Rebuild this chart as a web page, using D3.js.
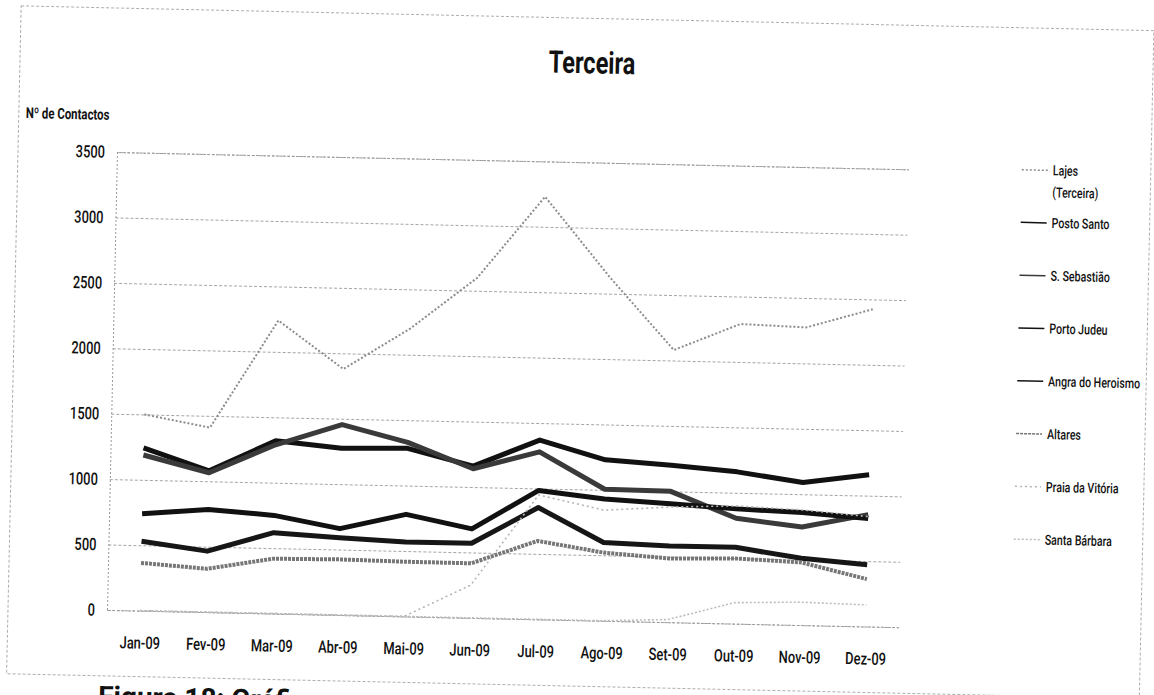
<!DOCTYPE html>
<html lang="pt">
<head>
  <meta charset="UTF-8">
  <title>Terceira</title>
  <style>
    body { margin: 0; background: #fff; }
    svg { display: block; }
    text { font-family: Roboto, "Liberation Sans", sans-serif; fill: #111; }
  </style>
</head>
<body>
  <svg id="chart" width="1154" height="695"></svg>

  <script src="https://cdn.jsdelivr.net/npm/d3@7"></script>
  <script>

    // values (Nº de Contactos, 2009)
    var months = ["Jan-09", "Fev-09", "Mar-09", "Abr-09", "Mai-09", "Jun-09",
                  "Jul-09", "Ago-09", "Set-09", "Out-09", "Nov-09", "Dez-09"];
    var yTicks = [0, 500, 1000, 1500, 2000, 2500, 3000, 3500];

    var lajes        = [1500, 1410, 2240, 1880, 2200, 2600, 3230, 2630, 2080, 2290, 2275, 2425];
    var postoSanto   = [1245, 1080, 1320, 1275, 1285, 1160, 1370, 1230, 1200, 1160, 1090, 1160];
    var sSebastiao   = [1190, 1065, 1290, 1455, 1330, 1140, 1280, 1005, 1000, 805, 750, 855];
    var portoJudeu   = [740, 785, 750, 660, 780, 680, 985, 930, 905, 877, 860, 825];
    var angra        = [530, 466, 618, 591, 568, 570, 854, 598, 583, 583, 510, 472];
    var altares      = [365, 331, 419, 425, 418, 417, 599, 521, 487, 498, 479, 362];
    var praiaVitoria = [0, 0, 0, 0, 0, 250, 950, 845, 880, 900, 880, 840];
    var santaBarbara = [0, 0, 0, 0, 0, 0, 0, 0, 20, 160, 175, 165];

    var series = [
      {name: "Lajes (Terceira)", values: lajes,        color: "#8c8c8c", width: 2,   dash: "2,2"},
      {name: "Posto Santo",      values: postoSanto,   color: "#111",    width: 5,   dash: null},
      {name: "S. Sebastião",     values: sSebastiao,   color: "#3a3a3a", width: 5,   dash: null},
      {name: "Porto Judeu",      values: portoJudeu,   color: "#111",    width: 5,   dash: null},
      {name: "Angra do Heroismo",values: angra,        color: "#161616", width: 5,   dash: null},
      {name: "Altares",          values: altares,      color: "#777",    width: 4,   dash: "3,1"},
      {name: "Praia da Vitória", values: praiaVitoria, color: "#b5b5b5", width: 1.6, dash: "2,3"},
      {name: "Santa Bárbara",    values: santaBarbara, color: "#bdbdbd", width: 1.6, dash: "2,2"}
    ];

    // the scanned chart uses a narrow font, squeeze Roboto to match
    var SX = 0.76;

    var svg = d3.select("#chart");
    svg.append("rect").attr("width", 1154).attr("height", 695).attr("fill", "#fff");

    // the scan is tilted a little clockwise
    var g = svg.append("g").attr("transform", "rotate(1.25,110,610)");

    var x0 = 107, x1 = 899, yTop = 152, yBot = 610;

    var x = d3.scalePoint().domain(months).range([x0, x1]).padding(0.5);
    var y = d3.scaleLinear().domain([0, 3500]).range([yBot, yTop]);

    function narrowText(sel, px, py, size, weight) {
      return sel.append("text")
        .attr("transform", "translate(" + px + "," + py + ") scale(" + SX + ",1)")
        .attr("font-size", size)
        .attr("font-weight", weight || 500);
    }

    // chart frame
    g.append("rect")
      .attr("x", 8).attr("y", 8).attr("width", 1133).attr("height", 668)
      .attr("fill", "none").attr("stroke", "#999").attr("stroke-width", 0.8)
      .attr("stroke-dasharray", "3,2");

    // gridlines + y labels
    var yAxis = g.append("g")
      .attr("transform", "translate(" + x0 + ",0)")
      .call(d3.axisLeft(y).tickValues(yTicks).tickFormat(d3.format("d")).tickSize(-(x1 - x0)));
    yAxis.select(".domain").attr("stroke", "#999").attr("stroke-dasharray", "2,2");
    yAxis.selectAll(".tick line")
      .attr("stroke", "#9a9a9a").attr("stroke-width", 0.9).attr("stroke-dasharray", "3,2");
    yAxis.selectAll(".tick text")
      .attr("font-size", 17).attr("font-weight", 500).attr("fill", "#111")
      .attr("x", -12 / SX)
      .attr("transform", "scale(" + SX + ",1)");

    // x labels
    var xAxis = g.append("g")
      .attr("transform", "translate(0," + yBot + ")")
      .call(d3.axisBottom(x).tickSize(0).tickPadding(26));
    xAxis.select(".domain").remove();
    xAxis.selectAll(".tick text")
      .attr("font-size", 17).attr("font-weight", 500).attr("fill", "#111")
      .attr("transform", "scale(" + SX + ",1)");

    // lines
    var line = d3.line()
      .x(function (d, i) { return x(months[i]); })
      .y(function (d) { return y(d); });

    series.forEach(function (s) {
      g.append("path")
        .datum(s.values)
        .attr("d", line)
        .attr("fill", "none")
        .attr("stroke", s.color)
        .attr("stroke-width", s.width)
        .attr("stroke-linejoin", "round")
        .attr("stroke-dasharray", s.dash);
    });

    // titles
    narrowText(g, 580, 63, 31, "bold")
      .attr("text-anchor", "middle")
      .text("Terceira");

    narrowText(g, 15, 120, 15, "bold")
      .text("Nº de Contactos");

    // legend
    var legend = g.append("g").attr("transform", "translate(1012,0)");
    series.forEach(function (s, i) {
      var cy = i === 0 ? 150 : 202.6 + (i - 1) * 52.8;
      legend.append("line")
        .attr("x1", 0).attr("x2", 26).attr("y1", cy).attr("y2", cy)
        .attr("stroke", s.color).attr("stroke-width", 1.5)
        .attr("stroke-dasharray", s.dash);
      if (i === 0) {
        narrowText(legend, 31, cy, 14).attr("dy", "0.35em").text("Lajes");
        narrowText(legend, 31, cy + 22, 14).attr("dy", "0.35em").text("(Terceira)");
      } else {
        narrowText(legend, 31, cy, 14).attr("dy", "0.35em").text(s.name);
      }
    });

    // caption of the document, cut off by the scan
    g.append("text")
      .attr("x", 100).attr("y", 706)
      .attr("font-size", 28).attr("font-weight", "bold")
      .text("Figura 18: Gráfico");
  </script>
</body>
</html>
